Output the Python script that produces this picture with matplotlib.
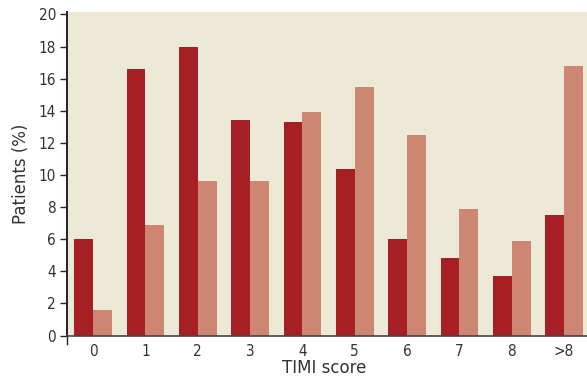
import matplotlib
matplotlib.use("Agg")
import matplotlib.pyplot as plt
import numpy as np

# data
categories = ['0', '1', '2', '3', '4', '5', '6', '7', '8', '>8']
series_dark = [6.0, 16.6, 18.0, 13.4, 13.3, 10.4, 6.0, 4.8, 3.7, 7.5]
series_light = [1.6, 6.9, 9.6, 9.6, 13.9, 15.5, 12.5, 7.9, 5.9, 16.8]
yticks = [0, 2, 4, 6, 8, 10, 12, 14, 16, 18, 20]

dark = '#a51f25'
light = '#cd8672'
bg = '#ece9d6'
txt = '#333333'

tick_font = dict(family=['Liberation Sans Narrow', 'DejaVu Sans'], fontstretch='condensed', size=11, color=txt)

fig = plt.figure(figsize=(5.87, 3.78), dpi=100)
ax = fig.add_axes([67/587, 42/378, 1 - 67/587, 324/378])
ax.set_facecolor(bg)

x = np.arange(len(categories))
w = 0.36
ax.bar(x - w/2, series_dark, w, color=dark, zorder=2)
ax.bar(x + w/2, series_light, w, color=light, zorder=2)

ax.set_xlim(-0.5, 9.44)
ax.set_ylim(-0.03, 20.15)

ax.set_yticks(yticks)
ax.set_yticklabels([str(t) for t in yticks], **tick_font)
ax.tick_params(axis='y', direction='out', length=5, width=1, color='#222222', pad=3)

ax.set_xticks([])
for i, c in enumerate(categories):
    ax.text(x[i], -0.5, c, ha='center', va='top', **tick_font)
# single tick at left end of x axis
ax.plot([-0.5, -0.5], [0, -0.5], color='#222222', lw=1, clip_on=False)

for s in ['top', 'right']:
    ax.spines[s].set_visible(False)
ax.spines['left'].set_color('#222222')
ax.spines['left'].set_linewidth(1.4)
ax.spines['bottom'].set_color('#444444')
ax.spines['bottom'].set_linewidth(1.2)

ax.set_ylabel('Patients (%)', fontsize=12, color=txt, labelpad=6)
fig.text(324/587, 10/378, 'TIMI score', ha='center', va='center', fontsize=12, color=txt)

fig.savefig('out.png', dpi=100)
